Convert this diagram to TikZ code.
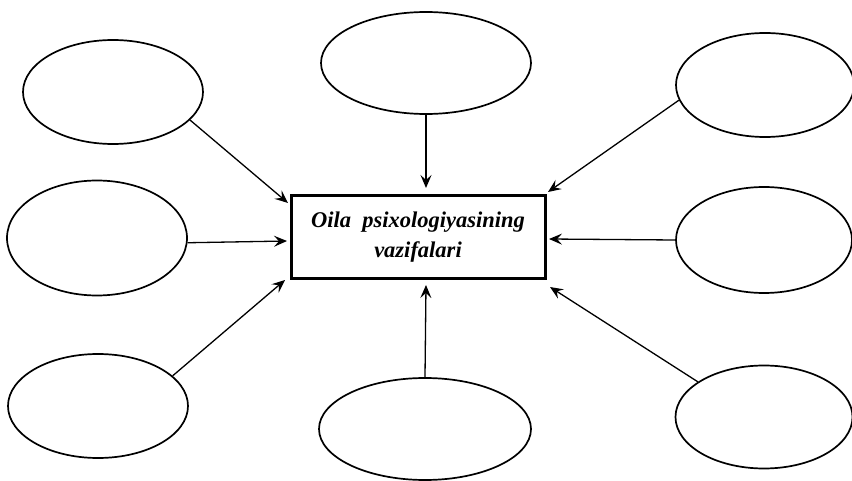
\documentclass[tikz,border=0pt]{standalone}
\usepackage{fontspec}
\setmainfont{Liberation Serif}
\usepackage{tikz}
\usetikzlibrary{shapes.geometric,arrows.meta}
\tikzset{
    empty-oval/.style = {draw=black, fill=white, ellipse, line width=1.7pt, inner sep=0pt},
    task-box/.style = {draw=black, fill=white, rectangle, line width=3pt, minimum width=254pt, minimum height=83pt, align=center, font=\fontsize{22.5}{30}\selectfont\bfseries\itshape},
    feed-arrow/.style = {line width=1.3pt, -{Stealth[length=13pt, width=11pt, inset=5pt]}},
}

\begin{document}
\begin{tikzpicture}[x=1pt, y=1pt]
\useasboundingbox (0,0) rectangle (852,480);
\node [task-box] (box) at (418,242.5) {Oila~ psixologiyasining\\vazifalari};

% the eight empty ovals
\node [empty-oval, minimum width=180pt, minimum height=104pt] (oval-tl) at (113,388) {};
\node [empty-oval, minimum width=210pt, minimum height=102pt] (oval-tc) at (426,417) {};
\node [empty-oval, minimum width=178pt, minimum height=104pt] (oval-tr) at (765,395) {};
\node [empty-oval, minimum width=180pt, minimum height=115pt] (oval-ml) at (97,242) {};
\node [empty-oval, minimum width=176pt, minimum height=106pt] (oval-mr) at (764,240) {};
\node [empty-oval, minimum width=180pt, minimum height=104pt] (oval-bl) at (98,74) {};
\node [empty-oval, minimum width=212pt, minimum height=102pt] (oval-bc) at (425,51) {};
\node [empty-oval, minimum width=177pt, minimum height=103pt] (oval-br) at (764,63) {};

% arrow ends at the box
\coordinate (in-tl) at (288,277);
\coordinate (in-tc) at (426,292);
\coordinate (in-tr) at (548,288);
\coordinate (in-ml) at (287,239);
\coordinate (in-mr) at (549,241);
\coordinate (in-bl) at (285,200);
\coordinate (in-bc) at (426,195);
\coordinate (in-br) at (550,193);

\draw [feed-arrow] (oval-tl.-20) -- (in-tl);
\draw [feed-arrow] (oval-tc.south) -- (in-tc);
\draw [feed-arrow] (oval-tr.190) -- (in-tr);
\draw [feed-arrow] (oval-ml.-3) -- (in-ml);
\draw [feed-arrow] (oval-mr.west) -- (in-mr);
\draw [feed-arrow] (oval-bl.22) -- (in-bl);
\draw [feed-arrow] (oval-bc.north) -- (in-bc);
\draw [feed-arrow] (oval-br.152) -- (in-br);
\end{tikzpicture}
\end{document}
